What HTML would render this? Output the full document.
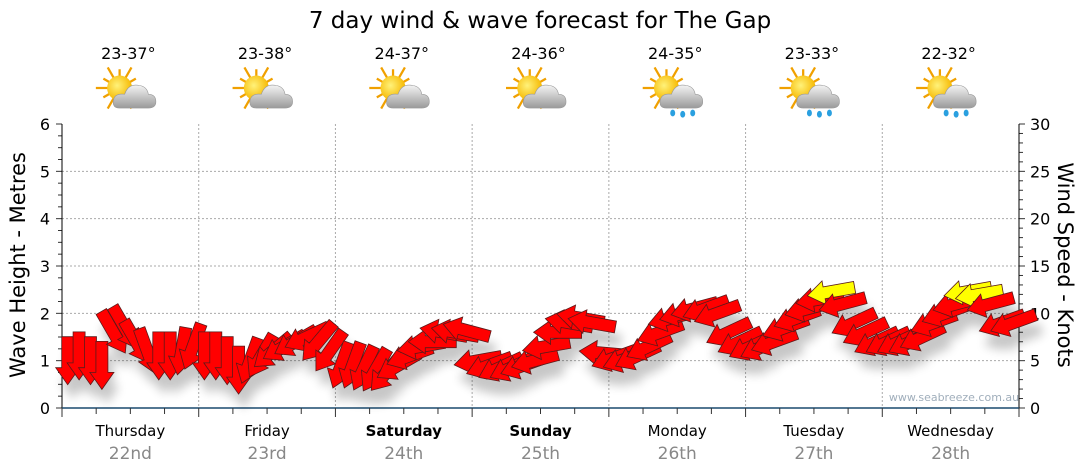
<!DOCTYPE html>
<html><head><meta charset="utf-8">
<style>
html,body{margin:0;padding:0;background:#fff;width:1080px;height:475px;overflow:hidden}
svg text{font-family:"DejaVu Sans","Liberation Sans",sans-serif}
</style></head>
<body>
<svg id="chart" width="1080" height="475" xmlns="http://www.w3.org/2000/svg">
<defs>
<filter id="sh" x="-50%" y="-50%" width="200%" height="200%">
<feGaussianBlur in="SourceAlpha" stdDeviation="5"/>
<feOffset dx="5" dy="14" result="b"/>
<feComponentTransfer><feFuncA type="linear" slope="0.22"/></feComponentTransfer>
<feMerge><feMergeNode/><feMergeNode in="SourceGraphic"/></feMerge>
</filter>
<radialGradient id="sunG" cx="0.4" cy="0.4" r="0.6"><stop offset="0" stop-color="#fff27a"/><stop offset="1" stop-color="#f6b800"/></radialGradient>
<linearGradient id="cloudG" x1="0" y1="0" x2="0" y2="1"><stop offset="0" stop-color="#f4f4f4"/><stop offset="1" stop-color="#9a9a9a"/></linearGradient>
</defs>
<text x="540" y="28" text-anchor="middle" font-size="23" fill="#000">7 day wind &amp; wave forecast for The Gap</text>
<g id="grid"></g>
<g id="axes"></g>
<g id="icons"></g>
<g id="arrows" filter="url(#sh)"></g>
<text x="954" y="401" text-anchor="middle" font-size="11" fill="#a0aebb" font-family="Liberation Sans">www.seabreeze.com.au</text>
<text transform="translate(25,265) rotate(-90)" text-anchor="middle" font-size="21" fill="#000">Wave Height - Metres</text>
<text transform="translate(1058,265) rotate(90)" text-anchor="middle" font-size="21" fill="#000">Wind Speed - Knots</text>
</svg>
<script>
const days = ["Thursday","Friday","Saturday","Sunday","Monday","Tuesday","Wednesday"];
const dates = ["22nd","23rd","24th","25th","26th","27th","28th"];
const boldDays = [false,false,true,true,false,false,false];
const temps = ["23-37°","23-38°","24-37°","24-36°","24-35°","23-33°","22-32°"];
const rainy = [false,false,false,false,true,true,true];
const leftTicks = [0,1,2,3,4,5,6];
const rightTicks = [0,5,10,15,20,25,30];
// wind speed (knots), 2-hourly
const windSpeed = [
5,5.5,5,4.5,8,8.5,7,6,5.5,5.5,6,6.5,
5.5,5.5,5,4,5,5.5,6,6.5,7,7.5,7,6,
4.5,4.5,4.2,4,3.8,4.5,5.5,6.5,7,8,8,8.2,
5,4.5,4.3,4.3,4.5,5,6.5,8,9,9.5,9,5.8,
5.3,5.2,5.5,6.5,8,9.5,10,10.5,10.5,10,8,7,
6.5,6.5,7,8.5,9.5,10.5,11.5,12.3,11,9,8,7,
7,7,7,7.5,9,10,11,12.3,12,11,9,9];
// wind direction (degrees, from)
const windDir = [
0,0,0,0,330,330,330,340,0,0,10,20,
0,0,0,0,20,30,50,60,60,65,40,35,
20,20,25,30,40,60,70,80,90,100,100,105,
80,70,65,65,70,75,80,90,100,100,100,95,
70,70,65,65,70,75,75,75,70,70,65,65,
65,65,70,70,70,75,80,80,75,65,65,65,
65,65,65,65,70,70,75,80,80,75,70,70];

const NS="http://www.w3.org/2000/svg";
const X0=62,X1=1019,Y0=408,Y1=124;
const dayW=(X1-X0)/7;
const yM=m=>Y0-(m/6)*(Y0-Y1);
const yK=k=>Y0-(k/30)*(Y0-Y1);
const xT=t=>X0+t*dayW;
function mk(tag,attrs,parent){const e=document.createElementNS(NS,tag);for(const k in attrs)e.setAttribute(k,attrs[k]);parent.appendChild(e);return e;}
const grid=document.getElementById('grid'),axes=document.getElementById('axes'),icons=document.getElementById('icons'),arrows=document.getElementById('arrows');

leftTicks.forEach(v=>{
  if(v>0&&v<6){const g=mk('line',{x1:X0,x2:X1,y1:yM(v),y2:yM(v),stroke:'#aaa','stroke-dasharray':'2,2'},grid);
  
  }
  const t=mk('text',{x:50,y:yM(v)+6,'text-anchor':'end','font-size':'16',fill:'#000'},axes);t.textContent=v;
  
  
});
for(let i=0;i<=24;i++){mk('line',{x1:X0-(i%4==0?6:4),x2:X0,y1:yM(i/4),y2:yM(i/4),stroke:'#333'},axes);}
rightTicks.forEach(v=>{
  const t=mk('text',{x:1030,y:yK(v)+6,'font-size':'16',fill:'#000'},axes);t.textContent=v;
  
  
});
for(let i=0;i<=30;i++){mk('line',{x1:X1,x2:X1+(i%5==0?6:4),y1:yK(i),y2:yK(i),stroke:'#333'},axes);}
mk('line',{x1:X0,x2:X0,y1:Y1,y2:Y0,stroke:'#000'},axes);
mk('line',{x1:X1,x2:X1,y1:Y1,y2:Y0,stroke:'#000'},axes);
mk('line',{x1:X0,x2:X1,y1:Y0,y2:Y0,stroke:'#1a4a6e','stroke-width':1.5},axes);
for(let i=0;i<=28;i++){const x=X0+i*dayW/4;mk('line',{x1:x,x2:x,y1:Y0,y2:Y0+(i%4==0?9:6),stroke:'#333'},axes);}
days.forEach((d,i)=>{
  if(i>0){const g=mk('line',{x1:xT(i),x2:xT(i),y1:Y1,y2:Y0,stroke:'#aaa','stroke-dasharray':'2,2'},grid);
  
  }
  const cx=xT(i+0.5);
  const t=mk('text',{x:cx,y:436,'text-anchor':'middle','font-size':'15',fill:'#000','font-weight':boldDays[i]?'bold':'normal'},axes);t.textContent=d;
  
  
  const t2=mk('text',{x:cx,y:459,'text-anchor':'middle','font-size':'17',fill:'#888'},axes);t2.textContent=dates[i];
  
  
  const tt=mk('text',{x:cx-2,y:59,'text-anchor':'middle','font-size':'16',fill:'#000'},icons);tt.textContent=temps[i];
  
  
  const g=mk('g',{transform:`translate(${cx-2},93) scale(1.25)`},icons);
  
  
  for(let r=0;r<12;r++){const a=r*Math.PI/6;mk('line',{x1:-7+Math.cos(a)*9,y1:-4+Math.sin(a)*9,x2:-7+Math.cos(a)*(r%2?15:19),y2:-4+Math.sin(a)*(r%2?15:19),stroke:'#f0a000','stroke-width':1.8},g);}
  mk('circle',{cx:-7,cy:-4,r:10,fill:'url(#sunG)'},g);
  mk('path',{d:'M-7 12 Q-13 12 -12 6 Q-11 0 -3 1 Q0 -8 9 -6 Q15 -5 16 1 Q22 1 22 7 Q22 12 16 12 Z',fill:'url(#cloudG)',stroke:'#999','stroke-width':0.5},g);
  if(rainy[i]){[[-2,16],[6,17],[14,16]].forEach(p=>mk('ellipse',{cx:p[0],cy:p[1],rx:2,ry:2.7,fill:'#2aa0e0'},g));}
});

windSpeed.forEach((s,i)=>{
  const x=xT((i+0.5)/12), y=yK(s);
  const ang=windDir[i]+180;
  const L=48,hl=17,hw=12,sw=6;
  const pts=[[-L/2,-sw],[L/2-hl,-sw],[L/2-hl,-hw],[L/2,0],[L/2-hl,hw],[L/2-hl,sw],[-L/2,sw]].map(p=>p.join(',')).join(' ');
  const p=mk('polygon',{points:pts,transform:`translate(${x.toFixed(1)},${y.toFixed(1)}) rotate(${ang-90})`,fill:s>=12?'#ffff00':'#ff0000',stroke:'#5a1a1a','stroke-width':0.8},arrows);
  
  
});
</script>
</body></html>
